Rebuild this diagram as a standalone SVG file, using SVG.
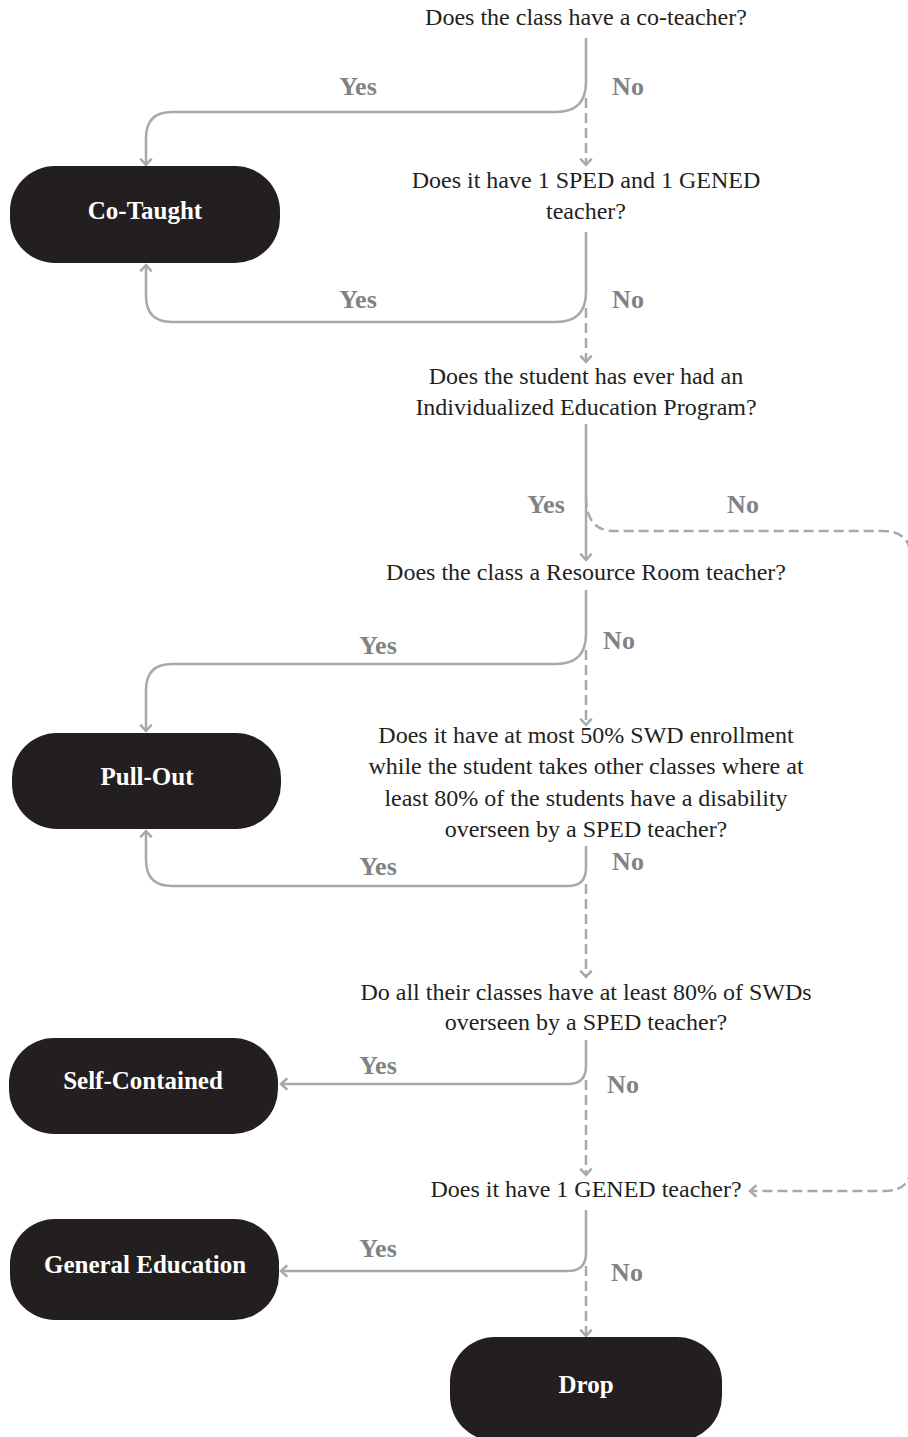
<svg xmlns="http://www.w3.org/2000/svg" width="908" height="1437" viewBox="0 0 908 1437">
<style>
.q{font-family:"Liberation Serif","Times New Roman",serif;font-size:24px;fill:#231f20;text-anchor:middle}
.lbl{font-family:"Liberation Serif","Times New Roman",serif;font-size:26px;font-weight:bold;fill:#808285;text-anchor:middle}
.box{fill:#231f20}
.nt{font-family:"Liberation Serif","Times New Roman",serif;font-size:25px;font-weight:bold;fill:#ffffff;text-anchor:middle}
.c{fill:none;stroke:#a7a9ac;stroke-width:2.5}
.d{stroke-dasharray:10 5}
</style>
<defs>
<marker id="ah" markerUnits="userSpaceOnUse" markerWidth="16" markerHeight="16" viewBox="-8 -7 10 14" refX="0" refY="0" orient="auto" overflow="visible">
<path d="M-5.5,-5 L0,0 L-5.5,5" fill="none" stroke="#a7a9ac" stroke-width="2.2" stroke-dasharray="none"/>
</marker>
</defs>

<g id="questions">
<text class="q" x="586" y="25">Does the class have a co-teacher?</text>
<text class="q" x="586" y="188">Does it have 1 SPED and 1 GENED</text>
<text class="q" x="586" y="219">teacher?</text>
<text class="q" x="586" y="384">Does the student has ever had an</text>
<text class="q" x="586" y="415">Individualized Education Program?</text>
<text class="q" x="586" y="580">Does the class a Resource Room teacher?</text>
<text class="q" x="586" y="743">Does it have at most 50% SWD enrollment</text>
<text class="q" x="586" y="774">while the student takes other classes where at</text>
<text class="q" x="586" y="806">least 80% of the students have a disability</text>
<text class="q" x="586" y="837">overseen by a SPED teacher?</text>
<text class="q" x="586" y="1000">Do all their classes have at least 80% of SWDs</text>
<text class="q" x="586" y="1030">overseen by a SPED teacher?</text>
<text class="q" x="586" y="1197">Does it have 1 GENED teacher?</text>
</g>

<g id="connectors">
<path class="c" d="M586,38 V82 Q586,112 556,112 H172 Q146,112 146,138 V165" marker-end="url(#ah)"/>
<path class="c d" d="M586,98 V165" marker-end="url(#ah)"/>
<path class="c" d="M586,232 V292 Q586,322 556,322 H172 Q146,322 146,296 V265" marker-end="url(#ah)"/>
<path class="c d" d="M586,308 V362" marker-end="url(#ah)"/>
<path class="c" d="M586,424 V560" marker-end="url(#ah)"/>
<path class="c d" d="M586,497 Q586,531 614,531 H883 Q911,531 911,559 V1165 Q911,1191 885,1191 H750" marker-end="url(#ah)"/>
<path class="c" d="M586,590 V634 Q586,664 556,664 H172 Q146,664 146,690 V731" marker-end="url(#ah)"/>
<path class="c d" d="M586,650 V725" marker-end="url(#ah)"/>
<path class="c" d="M586,846 V868 Q586,886 568,886 H172 Q146,886 146,860 V831" marker-end="url(#ah)"/>
<path class="c d" d="M586,884 V977" marker-end="url(#ah)"/>
<path class="c" d="M586,1040 V1066 Q586,1084 568,1084 H281" marker-end="url(#ah)"/>
<path class="c d" d="M586,1080 V1175" marker-end="url(#ah)"/>
<path class="c" d="M586,1210 V1253 Q586,1271 568,1271 H281" marker-end="url(#ah)"/>
<path class="c d" d="M586,1266 V1336" marker-end="url(#ah)"/>
</g>

<g id="labels">
<text class="lbl" x="358" y="95">Yes</text>
<text class="lbl" x="628" y="95">No</text>
<text class="lbl" x="358" y="308">Yes</text>
<text class="lbl" x="628" y="308">No</text>
<text class="lbl" x="546" y="513">Yes</text>
<text class="lbl" x="743" y="513">No</text>
<text class="lbl" x="378" y="654">Yes</text>
<text class="lbl" x="619" y="649">No</text>
<text class="lbl" x="378" y="875">Yes</text>
<text class="lbl" x="628" y="870">No</text>
<text class="lbl" x="378" y="1074">Yes</text>
<text class="lbl" x="623" y="1093">No</text>
<text class="lbl" x="378" y="1257">Yes</text>
<text class="lbl" x="627" y="1281">No</text>
</g>

<g id="co-taught">
<rect class="box" x="10" y="166" width="270" height="97" rx="45"/>
<text class="nt" x="145" y="219">Co-Taught</text>
</g>
<g id="pull-out">
<rect class="box" x="12" y="733" width="269" height="96" rx="45"/>
<text class="nt" x="147" y="785">Pull-Out</text>
</g>
<g id="self-contained">
<rect class="box" x="9" y="1038" width="269" height="96" rx="45"/>
<text class="nt" x="143" y="1089">Self-Contained</text>
</g>
<g id="general-education">
<rect class="box" x="10" y="1219" width="269" height="101" rx="45"/>
<text class="nt" x="145" y="1273">General Education</text>
</g>
<g id="drop">
<rect class="box" x="450" y="1337" width="272" height="104" rx="45"/>
<text class="nt" x="586" y="1393">Drop</text>
</g>
</svg>
